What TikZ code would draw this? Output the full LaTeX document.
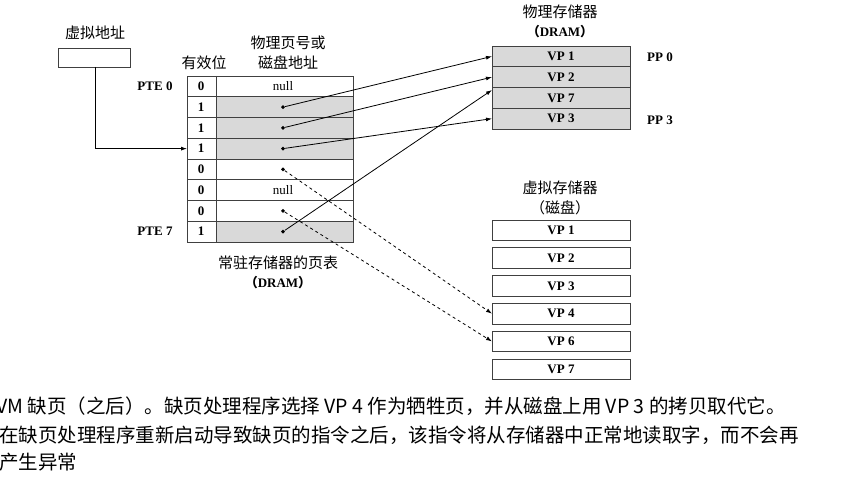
\documentclass[tikz,border=0pt]{standalone}
\usepackage{fontspec}
\setmainfont{Liberation Serif}
\newfontfamily\cjk{Noto Sans CJK SC}
\usetikzlibrary{arrows.meta}
\begin{document}
\begin{tikzpicture}[x=1pt,y=-1pt,
  lat/.style={font=\bfseries\fontsize{13}{13}\selectfont},
  zh/.style={font=\cjk\fontsize{15}{15}\selectfont},
  captext/.style={font=\cjk\fontsize{19.5}{19.5}\selectfont,anchor=west,inner sep=0},
  cell/.style={draw=black!75,line width=0.7pt},
  shade/.style={fill=black!15},
  arr/.style={-{Latex[length=6pt,width=4pt]},line width=0.8pt},
  darr/.style={arr,dashed},
  dot/.style={circle,fill,inner sep=1.4pt}]
\useasboundingbox (0,0) rectangle (849,481);
\fill[white] (0,0) rectangle (849,481);
% virtual address
\node[zh] (va) at (95,33) {虚拟地址};
\draw[cell] (58,48) rectangle (130,67);
\coordinate (vab) at (95,67);
% page table
\def\rh{20.75}
\foreach \i/\v/\s in {0/0/0,1/1/1,2/1/1,3/1/1,4/0/0,5/0/0,6/0/0,7/1/1}{
  \pgfmathsetmacro\yt{76+\i*\rh}
  \ifnum\s=1 \fill[black!15] (216,\yt) rectangle (353,\yt+\rh);\fi
  \draw[cell] (187,\yt) rectangle (353,\yt+\rh);
  \node[lat] (v\i) at (201,\yt+\rh/2) {\v};
  \coordinate (r\i) at (187,\yt+\rh/2);
}
\draw[cell] (216,76) -- (216,242);
\node[lat,font=\fontsize{13}{13}\selectfont] (n0) at (283,86.4) {null};
\node[lat,font=\fontsize{13}{13}\selectfont] (n5) at (283,190.1) {null};
\foreach \i in {1,2,3,4,6,7}{\node[dot] (d\i) at (283,{76+(\i+0.5)*\rh}) {};}
\node[lat] (pte0) at (155,86.4) {PTE 0};
\node[lat] (pte7) at (155,231.5) {PTE 7};
\node[zh] (hv) at (204,63) {有效位};
\node[zh] (hp1) at (288,43) {物理页号或};
\node[zh] (hp2) at (288,63) {磁盘地址};
\node[zh] (pt1) at (278,263) {常驻存储器的页表};
\node[lat] (pt2) at (278,283) {{\cjk（}DRAM{\cjk）}};
\draw[arr] (vab) |- (r3);
% physical memory
\node[zh] (pm1) at (560,12) {物理存储器};
\node[lat] (pm2) at (560,32) {{\cjk（}DRAM{\cjk）}};
\foreach \i/\t in {0/1,1/2,2/7,3/3}{
  \pgfmathsetmacro\yt{46+\i*\rh}
  \draw[cell,shade] (492,\yt) rectangle (630,\yt+\rh);
  \node[lat] (p\t) at (561,\yt+\rh/2) {VP \t};
  \coordinate (pl\t) at (492,\yt+\rh/2);
}
\node[lat] (pp0) at (660,57) {PP 0};
\node[lat] (pp3) at (660,120) {PP 3};
% virtual memory
\node[zh] (vm1) at (560,188) {虚拟存储器};
\node[zh] (vm2) at (560,208) {（磁盘）};
\foreach \i/\t in {0/1,1/2,2/3,3/4,4/6,5/7}{
  \pgfmathsetmacro\yt{220+\i*27.8}
  \draw[cell] (492,\yt) rectangle (630,\yt+20.5);
  \node[lat] (m\t) at (561,\yt+10.25) {VP \t};
  \coordinate (ml\t) at (492,\yt+10.25);
}
% arrows
\draw[arr] (d1) -- (pl1);
\draw[arr] (d2) -- (pl2);
\draw[arr] (d3) -- (pl3);
\draw[arr] (d7) -- (492,90);
\draw[darr] (d4) -- (ml4);
\draw[darr] (d6) -- (ml6);
% caption
\node[captext] (c1) at (-4,406) {VM 缺页（之后）。缺页处理程序选择 VP 4 作为牺牲页，并从磁盘上用 VP 3 的拷贝取代它。};
\node[captext] (c2) at (-1,435) {在缺页处理程序重新启动导致缺页的指令之后，该指令将从存储器中正常地读取字，而不会再};
\node[captext] (c3) at (-1,462) {产生异常};
\end{tikzpicture}
\end{document}
